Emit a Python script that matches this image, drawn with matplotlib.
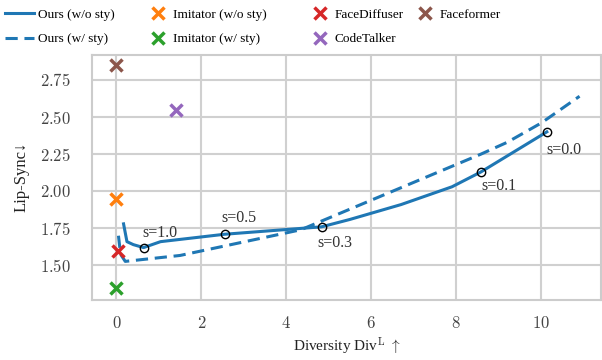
import matplotlib
matplotlib.use("Agg")
import matplotlib.pyplot as plt

plt.rcParams['font.family'] = ['Liberation Serif', 'DejaVu Serif']
plt.rcParams['mathtext.fontset'] = 'cm'

# Ours curves (diversity, lip-sync)
ours_wo_x = [0.17, 0.25, 0.40, 0.64, 1.04, 2.55, 4.83, 5.50, 6.70, 7.90, 8.58, 10.13]
ours_wo_y = [1.78, 1.66, 1.64, 1.62, 1.66, 1.71, 1.76, 1.81, 1.91, 2.03, 2.13, 2.40]
ours_w_x = [0.05, 0.10, 0.21, 1.50, 4.34, 8.58, 9.20, 10.00, 10.90]
ours_w_y = [1.70, 1.575, 1.527, 1.567, 1.74, 2.25, 2.33, 2.46, 2.64]

# guidance scale markers on the w/o-sty curve
s_labels = ["s=1.0", "s=0.5", "s=0.3", "s=0.1", "s=0.0"]
s_x = [0.64, 2.55, 4.83, 8.58, 10.13]
s_y = [1.62, 1.71, 1.76, 2.13, 2.40]

# baselines
base_names = ["Imitator (w/o sty)", "Imitator (w/ sty)", "FaceDiffuser", "CodeTalker", "Faceformer"]
base_x = [0.0, 0.0, 0.05, 1.40, 0.0]
base_y = [1.95, 1.35, 1.60, 2.55, 2.85]
base_colors = ["#ff7f0e", "#2ca02c", "#d62728", "#9467bd", "#8c564b"]

xticks = [0, 2, 4, 6, 8, 10]
yticks = [1.50, 1.75, 2.00, 2.25, 2.50, 2.75]

fig, ax = plt.subplots(figsize=(6.02, 3.6), dpi=100)
fig.subplots_adjust(left=0.153, right=0.998, top=0.848, bottom=0.168)

blue = "#1f77b4"
l1, = ax.plot(ours_wo_x, ours_wo_y, color=blue, lw=2.2, label="Ours (w/o sty)")
l2, = ax.plot(ours_w_x, ours_w_y, color=blue, lw=2.2, ls=(0, (4, 2.2)), label="Ours (w/ sty)")
ax.plot(s_x, s_y, 'o', mfc='none', mec='black', ms=6, mew=1.0, zorder=4)

# label offsets in pixels (dx, dy, va)
offsets = [(-1, 7, 'bottom'), (-3, 8, 'bottom'), (-4, -8, 'top'), (0, -6, 'top'), (0, -10, 'top')]
for lab, x, y, (dx, dy, va) in zip(s_labels, s_x, s_y, offsets):
    ax.annotate(lab, (x, y), xytext=(dx, dy), textcoords='offset pixels',
                fontsize=11.5, color='#333333', va=va, ha='left')

handles = {}
for name, x, y, c in zip(base_names, base_x, base_y, base_colors):
    handles[name], = ax.plot([x], [y], 'x', color=c, ms=9, mew=2.5, ls='none', label=name, zorder=5)

columns = [[l1, l2],
           [handles["Imitator (w/o sty)"], handles["Imitator (w/ sty)"]],
           [handles["FaceDiffuser"], handles["CodeTalker"]],
           [handles["Faceformer"]]]
col_x = [5 / 602, 149 / 602, 311 / 602, 416 / 602]
for i, (hs, cx) in enumerate(zip(columns, col_x)):
    fig.legend(handles=hs, labels=[h.get_label() for h in hs], frameon=False,
               loc='upper left', bbox_to_anchor=(cx, 0.977), fontsize=9.5,
               handlelength=2.2 if i == 0 else 1.4,
               handletextpad=0.3 if i == 0 else 0.4,
               labelspacing=0.95, borderpad=0, borderaxespad=0)

ax.set_xlim(-0.57, 11.4)
ax.set_ylim(1.27, 2.92)
ax.set_xticks(xticks)
ax.set_xticklabels([f"${v}$" for v in xticks])
ax.set_yticks(yticks)
ax.set_yticklabels([f"${v:.2f}$" for v in yticks])
ax.grid(True, color='#d0d0d0', lw=1.5)
ax.set_axisbelow(True)
for sp in ax.spines.values():
    sp.set_color('#cccccc')
    sp.set_linewidth(1.5)
ax.tick_params(length=0, labelsize=12, colors='#444444')
ax.tick_params(axis='y', pad=15)
ax.tick_params(axis='x', pad=12)
ax.set_xlabel(r"Diversity Div$^{\mathrm{L}}$ $\uparrow$", fontsize=11, color='#222222', labelpad=3)
ax.set_ylabel("Lip-Sync↓", fontsize=12, color='#222222', labelpad=8)

fig.savefig("out.png", dpi=100)
